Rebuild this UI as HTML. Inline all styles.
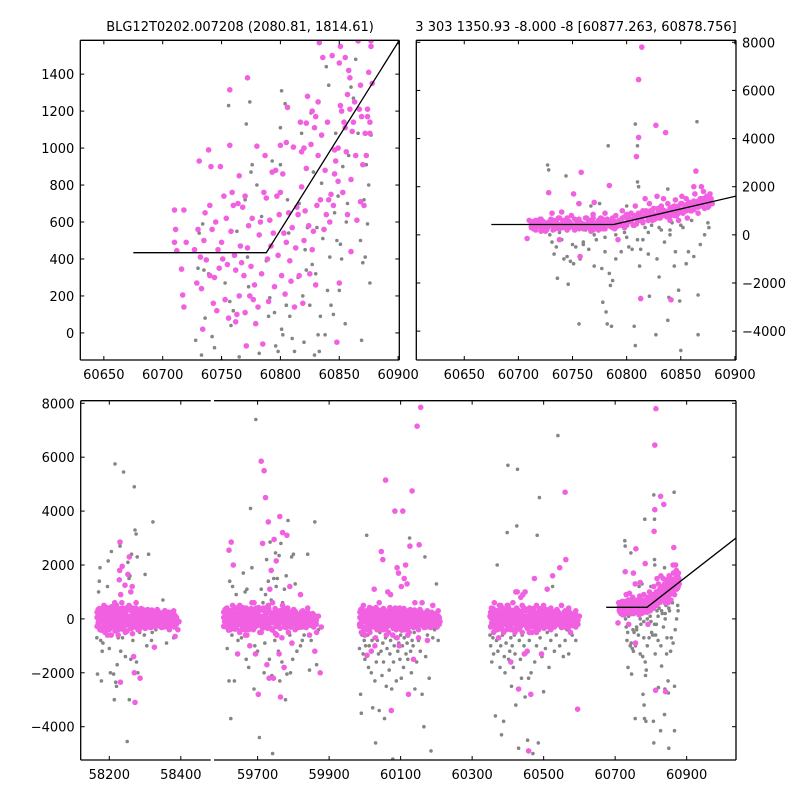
<!DOCTYPE html>
<html><head><meta charset="utf-8">
<style>
html,body{margin:0;padding:0;background:#fff;}
svg text{font-family:"DejaVu Sans","Liberation Sans",sans-serif;font-size:13px;fill:#000;}
</style></head>
<body>
<svg id="chart" width="800" height="800" xmlns="http://www.w3.org/2000/svg">
<rect width="800" height="800" fill="#fff"/>
<defs>
<clipPath id="cTL"><rect x="80.3" y="40.3" width="319" height="319.7"/></clipPath>
<clipPath id="cTR"><rect x="416.3" y="40.3" width="319.7" height="319.7"/></clipPath>
<clipPath id="cB1"><rect x="80.7" y="400.7" width="130" height="359.3"/></clipPath>
<clipPath id="cB2"><rect x="214" y="400.7" width="522" height="359.3"/></clipPath>
</defs>
<text x="240" y="31" text-anchor="middle">BLG12T0202.007208 (2080.81, 1814.61)</text>
<text x="576" y="31" text-anchor="middle">3 303 1350.93 -8.000 -8 [60877.263, 60878.756]</text>
<g id="layer"></g>
</svg>
<script>
// ---- data: zoomed panel (top-left) ----
const tlPinkT=[60710,60711,60710,60712,60716,60717,60718,60718,60720,60727,60729,60730,60731,60732,60733,60734,60735,60736,60737,60739,60740,60740,60741,60742,60743,60744,60745,60746,60747,60748,60749,60750,60751,60752,60753,60754,60755,60756,60757,60757,60758,60759,60760,60761,60762,60762,60763,60764,60765,60765,60766,60767,60768,60769,60770,60770,60771,60772,60772,60773,60774,60775,60776,60777,60778,60779,60780,60781,60782,60783,60784,60785,60786,60787,60788,60789,60790,60791,60792,60793,60794,60795,60796,60797,60798,60799,60800,60800,60801,60802,60803,60804,60805,60805,60806,60807,60808,60809,60810,60811,60812,60813,60814,60815,60816,60817,60818,60818,60819,60820,60820,60821,60822,60822,60823,60824,60825,60826,60827,60827,60828,60829,60830,60830,60831,60832,60832,60833,60834,60835,60836,60837,60838,60839,60840,60841,60842,60843,60844,60845,60846,60846,60847,60848,60849,60849,60850,60850,60851,60851,60852,60853,60854,60855,60855,60856,60857,60857,60858,60859,60859,60860,60860,60861,60862,60863,60864,60865,60866,60867,60868,60868,60869,60870,60871,60872,60873,60874,60874,60875,60876,60877,60877,60878,60876];
const tlPinkV=[665,560,490,445,345,205,140,665,490,450,270,560,930,410,240,20,500,650,395,990,310,690,900,560,160,300,600,120,450,350,900,490,400,740,180,620,370,80,1315,1015,550,760,690,420,60,340,100,700,850,200,470,380,680,310,740,110,-70,460,1380,580,200,360,620,180,260,50,1010,140,530,600,320,-60,760,960,730,400,170,610,470,870,540,250,880,740,420,640,1015,760,310,860,540,210,1030,490,1220,650,390,280,570,1005,140,460,680,640,310,1140,980,790,160,500,1000,660,1135,890,1280,580,320,1020,1200,450,550,1110,260,1170,690,1250,960,1570,720,1070,1490,560,880,640,1140,720,600,750,1500,690,860,990,930,-50,820,1000,270,1460,1550,1230,1200,760,1140,1490,1110,980,1290,640,1420,1210,1380,830,440,1090,1140,1250,960,610,1580,1210,710,1340,1170,910,690,1080,960,1210,1170,1410,1140,1580,1550,1350,1080];
const tlGrayT=[60728,60730,60731,60733,60734,60735,60736,60739,60742,60744,60750,60753,60756,60757,60758,60760,60763,60765,60770,60771,60772,60773,60774,60775,60776,60780,60782,60784,60788,60790,60791,60793,60795,60796,60798,60800,60800,60801,60801,60802,60804,60805,60806,60807,60808,60810,60812,60815,60816,60818,60819,60820,60821,60822,60823,60825,60826,60827,60828,60829,60830,60831,60832,60833,60834,60835,60836,60838,60839,60840,60841,60842,60843,60845,60846,60847,60848,60849,60850,60851,60852,60853,60855,60856,60857,60858,60860,60862,60864,60866,60868,60869,60870,60871,60872,60873,60874,60875,60876,60877];
const tlGrayV=[-40,350,540,-120,590,340,80,320,-20,-80,-150,270,1230,170,40,120,550,-130,720,1130,410,250,1250,870,910,800,-110,630,390,90,190,930,110,-70,-100,910,1110,1310,20,-10,1240,150,720,540,90,-30,-100,300,700,1080,200,-50,450,340,570,150,1190,370,870,-120,320,570,-10,-100,90,810,510,-10,1440,230,1340,410,150,100,650,1080,500,740,230,480,400,900,50,600,700,960,1330,1270,1480,1080,500,-40,380,720,410,910,590,800,270,1070];
// ---- data: season 5 (top-right + bottom) ----
const s5PinkT=[60708,60710,60712,60714,60716,60718,60720,60722,60724,60726,60728,60729,60731,60733,60735,60737,60738,60740,60742,60744,60745,60747,60749,60751,60752,60754,60756,60757,60758,60760,60762,60764,60765,60767,60769,60770,60772,60774,60776,60778,60780,60782,60784,60785,60787,60789,60790,60792,60794,60796,60798,60800,60802,60804,60806,60808,60809,60811,60811,60813,60814,60815,60817,60818,60820,60821,60823,60825,60827,60828,60830,60832,60834,60836,60837,60838,60840,60841,60842,60844,60845,60846,60848,60850,60851,60852,60854,60855,60856,60858,60860,60862,60863,60864,60865,60866,60868,60869,60870,60871,60872,60874,60875,60876,60877,60878,60879,60715,60725,60735,60745,60755,60765,60775,60785,60795,60805,60815,60825,60835,60845,60855,60865,60875,60870,60860,60850,60840,60830,60820,60810,60800,60790,60780,60770,60760,60750,60740,60730,60720];
const s5PinkV=[-150,600,350,450,250,500,650,300,420,200,1750,550,900,380,480,700,-200,950,400,600,250,500,800,1700,350,550,1300,-900,2600,450,700,300,600,150,850,1350,400,550,700,250,900,500,2050,350,650,450,800,-200,550,1000,300,700,600,900,400,1200,3250,6450,4050,-2650,7800,750,1500,1000,600,1300,900,1100,4550,1600,700,1200,1500,4250,900,1300,600,-2700,1100,800,1450,1000,600,1300,1600,900,1200,1500,700,1350,1000,2000,1700,2650,1300,900,1500,2000,1200,1800,1100,1600,1400,1200,1700,1500,1300,400,300,600,450,500,400,450,500,400,650,1000,800,1000,1150,1100,1300,1150,1500,1200,1000,900,1000,800,600,500,350,400,500,300,350,450,400,450];
const s5CoreT=[60712,60714,60716,60719,60721,60723,60725,60727,60730,60732,60734,60736,60738,60741,60743,60745,60747,60749,60752,60754,60756,60758,60760,60763,60765,60767,60769,60771,60774,60776,60778,60780,60782,60785,60787,60789,60791,60793,60796,60798,60800,60802,60804,60807,60809,60811,60813,60815,60818,60820,60822,60824,60826,60829,60831,60833,60835,60837,60840,60842,60844,60846,60848,60851,60853,60855,60857,60859,60862,60864,60866,60868,60870,60873,60875];
const s5CoreV1=[300,550,200,450,650,350,150,500,400,600,250,450,700,300,500,200,550,350,650,450,250,500,400,700,300,550,200,450,600,350,500,250,650,400,300,550,450,600,500,750,400,700,550,800,450,900,650,550,850,700,1000,600,800,950,700,1050,850,750,1100,900,1000,800,1200,950,1100,1000,1300,1150,1050,1250,1400,1200,1350,1500,1300];
const s5CoreV2=[450,250,600,350,150,550,400,300,650,200,500,350,250,600,400,700,300,450,200,550,650,350,250,450,600,400,700,300,200,500,650,300,450,550,700,250,350,400,700,450,850,550,650,400,750,600,800,500,950,600,750,900,650,1100,850,800,1000,950,800,1150,1200,1050,900,1300,1100,1250,1150,1000,1400,1300,1150,1450,1250,1550,1200];
const s5GrayT=[60727,60728,60729,60731,60733,60735,60736,60738,60740,60742,60744,60745,60746,60748,60750,60751,60753,60755,60756,60757,60760,60762,60765,60767,60770,60772,60775,60777,60778,60780,60781,60782,60783,60784,60785,60786,60787,60790,60792,60795,60798,60800,60802,60805,60807,60808,60808,60810,60810,60811,60812,60813,60815,60817,60820,60821,60823,60825,60827,60828,60830,60832,60835,60838,60838,60839,60840,60842,60844,60845,60848,60849,60850,60852,60855,60857,60860,60862,60865,60866,60866,60868,60870,60872,60875,60876,60850,60840,60830,60820,60810,60800,60790,60780,60770,60760];
const s5GrayV=[2900,2700,0,-300,-800,-500,-1800,100,-200,-1000,2450,-900,-2050,-1100,-400,-1200,-500,1300,-3700,-1000,-300,200,-600,1200,-1300,-200,1300,-1400,-2800,-700,-3200,-3700,3700,-1600,-2100,-3800,-1900,-1000,400,-700,100,1200,-500,-600,-3800,4600,-4600,2200,3700,2000,-1300,-600,-200,300,-800,-2550,400,700,-4150,-1000,-1750,200,-300,1900,-3550,-2600,200,500,-1300,-700,-2300,-2750,-4800,300,-1200,-700,600,-900,4700,-2500,-4150,-400,1300,0,500,300,400,0,300,100,-200,-100,0,-100,0,-400];
// ---- data: seasons 1-4 (bottom) ----
const s1PinkT=[58168,58170,58172,58174,58176,58178,58180,58182,58184,58186,58188,58190,58192,58194,58196,58198,58200,58202,58204,58206,58208,58210,58212,58214,58216,58218,58220,58222,58224,58226,58228,58229,58230,58231,58232,58234,58236,58238,58240,58242,58244,58246,58248,58250,58252,58254,58256,58258,58260,58262,58264,58266,58268,58270,58272,58274,58276,58278,58280,58282,58284,58286,58288,58290,58292,58294,58296,58298,58300,58302,58305,58308,58311,58314,58317,58320,58323,58326,58329,58332,58335,58338,58341,58344,58347,58350,58353,58356,58360,58364,58368,58372,58376,58380,58384,58388,58392,58395,58205,58215,58225,58235,58245,58255,58265,58275,58185,58195];
const s1PinkV=[100,-200,300,-400,0,200,-300,400,-100,100,-500,250,-50,350,-250,50,-400,200,-150,450,-300,100,-100,300,-450,0,500,-200,200,-350,1450,1800,2850,-2350,900,-150,1950,400,-300,100,1250,-200,300,-450,1650,0,2300,-100,1000,-350,1200,150,-1400,-2000,-3100,400,-250,100,-400,300,-100,-2200,200,-300,0,350,-200,100,-350,250,-100,200,-300,0,300,-200,100,-1050,200,-100,300,-250,0,200,-300,100,-150,300,-100,200,-400,100,-200,300,-650,0,-400,-100,-600,600,-600,600,-500,500,-550,600,500,-600];
const s1CoreT=[58166,58169,58172,58175,58178,58181,58184,58187,58190,58193,58196,58199,58202,58205,58208,58211,58214,58217,58220,58223,58226,58229,58232,58235,58238,58241,58244,58247,58250,58253,58256,58259,58262,58265,58268,58271,58274,58277,58280,58283,58286,58289,58292,58295,58298,58301,58304,58307,58310,58313,58316,58319,58322,58325,58328,58331,58334,58337,58340,58343,58346,58349,58352,58355,58358,58361,58364,58367,58370,58373,58376,58379,58382,58385,58388];
const s2CoreT=[59605,59609,59612,59616,59619,59623,59626,59630,59633,59637,59640,59644,59647,59651,59654,59658,59661,59665,59668,59672,59675,59679,59682,59686,59689,59693,59696,59700,59703,59707,59710,59714,59717,59721,59724,59728,59731,59735,59738,59742,59745,59749,59752,59756,59759,59763,59766,59770,59773,59777,59780,59784,59787,59791,59794,59798,59801,59805,59808,59812,59815,59819,59822,59826,59829,59833,59836,59840,59843,59847,59850,59854,59857,59861,59864];
const s3CoreT=[59986,59989,59992,59995,59998,60001,60004,60007,60010,60013,60016,60019,60022,60025,60028,60031,60034,60037,60040,60043,60046,60049,60052,60055,60058,60061,60064,60067,60070,60073,60076,60079,60082,60085,60088,60091,60094,60097,60100,60103,60106,60109,60112,60115,60118,60121,60124,60127,60130,60133,60136,60139,60142,60145,60148,60151,60154,60157,60160,60163,60166,60169,60172,60175,60178,60181,60184,60187,60190,60193,60196,60199,60202,60205,60208];
const s4CoreT=[60352,60355,60359,60362,60365,60369,60372,60375,60378,60382,60385,60388,60392,60395,60398,60402,60405,60408,60411,60415,60418,60421,60425,60428,60431,60435,60438,60441,60444,60448,60451,60454,60458,60461,60464,60468,60471,60474,60477,60481,60484,60487,60491,60494,60497,60501,60504,60507,60510,60514,60517,60520,60524,60527,60530,60534,60537,60540,60543,60547,60550,60553,60557,60560,60563,60567,60570,60573,60576,60580,60583,60586,60590,60593,60596];
const coreV1=[250,-150,380,-320,120,-60,300,-250,180,-380,60,340,-200,220,-120,420,-300,80,-50,320,-400,160,380,-180,40,-300,250,-100,420,-220,100,-350,300,-60,200,-250,380,-150,50,-420,230,-30,300,-200,120,-350,260,-100,200,-280,60,330,-150,240,-300,90,-50,280,-220,150,-320,40,250,-120,180,-280,100,-60,200,-200,80,-150,150,-100,50];
const coreV2=[-280,350,-100,200,-420,280,-60,150,-300,420,-220,-30,310,-150,380,-240,120,-400,250,-120,200,-30,-250,330,-380,150,-80,300,-200,60,-250,350,-120,400,-300,30,-180,250,-350,120,-150,380,-280,180,-50,300,-120,350,-180,200,-320,-100,280,-250,100,-180,350,-100,200,-260,150,-200,-300,300,-100,220,-320,250,-30,150,-250,200,-300,100,-200];
const coreV3=[50,10,-60,100,-20,30,-120,80,-30,0,-150,120,50,-80,0,-100,160,-200,130,-10,90,-100,0,60,200,-80,0,-200,100,0,-150,50,-30,120,60,-100,0,-80,180,-20,40,-150,80,-60,-200,150,40,-80,60,0,-100,150,50,-60,100,-180,200,0,-80,40,100,-250,-40,80,0,-100,40,-20,100,-50,-100,60,-80,0,-50];
const s1GrayT=[58165,58167,58170,58172,58174,58176,58178,58180,58182,58190,58195,58197,58200,58203,58206,58208,58212,58214,58216,58218,58220,58222,58225,58230,58232,58237,58240,58245,58250,58252,58255,58256,58258,58260,58262,58264,58266,58270,58272,58275,58276,58278,58280,58285,58290,58298,58300,58305,58310,58318,58322,58330,58340,58350,58360,58370,58380,58390,58300,58320];
const s1GrayV=[-700,-2050,1000,1400,1900,-800,-2300,-1200,-900,-500,1200,2150,-1100,-2000,2500,-600,-2050,-3000,5750,-2350,-2500,-1700,-700,2700,-1200,-700,5450,-1400,-4550,2100,1500,-3000,1600,-1500,2400,1200,-800,4900,3300,3150,-1600,2300,-2000,-500,-300,-600,1650,-1000,2400,-800,3600,-400,-300,700,-900,-200,-700,0,-300,-500];
const s2PinkT=[59608,59610,59612,59614,59616,59618,59620,59622,59624,59626,59628,59630,59632,59634,59636,59638,59640,59642,59644,59646,59648,59650,59652,59654,59656,59658,59660,59662,59664,59666,59668,59670,59672,59674,59676,59678,59680,59682,59684,59686,59688,59690,59692,59694,59696,59698,59700,59702,59704,59706,59708,59710,59712,59714,59716,59718,59720,59722,59724,59726,59728,59730,59732,59734,59736,59738,59740,59742,59744,59746,59748,59750,59752,59754,59756,59758,59760,59762,59764,59766,59768,59770,59772,59774,59776,59778,59780,59782,59784,59786,59788,59790,59792,59794,59796,59798,59800,59805,59810,59815,59820,59825,59830,59835,59840,59845,59850,59855,59860,59865,59870,59875,59878,59630,59650,59670,59690,59710,59730,59750,59770];
const s2PinkV=[-100,200,-300,400,0,-200,2550,300,-400,2850,100,-250,2000,400,-100,200,-350,0,-1300,300,-200,500,100,-400,200,-100,350,-250,50,-600,400,-100,200,-300,100,-1000,300,-200,600,0,-400,200,-100,-1300,400,-250,50,-2800,300,-500,100,5850,-200,2800,400,5500,-100,4500,200,-1700,-350,3600,-2200,1100,0,1800,-400,600,-2200,2950,200,-100,2150,-600,300,-200,-1300,3800,-2900,100,-700,3200,400,-1800,-300,200,-100,3100,400,-500,0,1200,-300,200,-900,-100,300,-400,100,-200,900,-300,200,-100,400,-600,-200,0,-1200,-500,100,-2000,-300,500,-500,-600,600,-500,500,-550,500];
const s2GrayT=[59615,59620,59622,59625,59628,59630,59635,59640,59645,59650,59655,59660,59662,59665,59668,59670,59675,59680,59684,59690,59692,59695,59700,59705,59710,59715,59718,59720,59722,59725,59730,59733,59735,59738,59740,59742,59745,59748,59750,59752,59755,59758,59760,59762,59765,59768,59770,59775,59778,59780,59782,59785,59788,59790,59792,59795,59798,59800,59805,59810,59815,59820,59825,59830,59835,59840,59845,59850,59855,59860,59865,59870];
const s2GrayV=[-1100,-2300,1400,-3700,-600,1200,-2300,900,-800,-200,-700,1700,-300,1000,-1500,1100,-1800,4100,1900,-2600,-1000,7400,-1200,-4400,1100,600,-2000,-900,900,2200,1400,-1500,2850,700,-2100,-5000,1500,-800,2450,1200,1500,-1200,2350,-2300,2800,-1600,600,1100,-3000,1600,-2050,3650,-200,-600,-2000,2300,-1500,2400,1300,-1200,-300,-1000,-800,-600,-200,2400,-1900,-800,-300,3600,-1700,-400];
const s3PinkT=[59985,59988,59990,59992,59994,59996,59998,60000,60002,60004,60006,60008,60010,60012,60014,60016,60018,60020,60022,60024,60026,60028,60030,60032,60034,60036,60038,60040,60042,60044,60046,60048,60050,60052,60054,60056,60058,60060,60062,60064,60066,60068,60070,60072,60074,60076,60078,60080,60082,60084,60086,60088,60090,60092,60094,60096,60098,60100,60102,60104,60106,60108,60110,60112,60114,60116,60118,60120,60122,60124,60126,60128,60130,60132,60134,60136,60138,60140,60142,60144,60146,60148,60150,60152,60154,60156,60158,60160,60165,60170,60175,60180,60185,60190,60195,60200,60205,60210,60000,60030,60060,60090,60120,60150];
const s3PinkV=[-200,300,-500,100,-300,500,-100,200,-400,0,-1350,300,-200,100,-500,400,-1200,-100,200,-300,1100,-1000,0,300,-400,100,-200,600,-300,0,2500,-100,2200,-400,200,-200,5150,100,-300,1000,-500,300,-100,900,-3400,200,-600,0,-200,4000,300,-400,1900,-100,1700,-1000,400,-200,1200,-300,4000,100,1500,-400,2000,-200,1300,200,-2800,-500,2700,100,-100,4750,300,-1500,-300,600,200,-200,7150,100,-400,2750,300,7850,-100,600,-200,200,-800,100,-300,500,0,-200,300,-100,-600,-700,-600,-700,-600,-700];
const s3GrayT=[59985,59988,59990,59992,59995,59998,60000,60002,60005,60008,60010,60012,60015,60018,60020,60022,60025,60026,60028,60030,60032,60035,60038,60040,60042,60045,60048,60050,60052,60055,60058,60060,60062,60065,60068,60070,60072,60075,60078,60080,60082,60085,60088,60090,60092,60095,60098,60100,60102,60105,60108,60110,60112,60115,60118,60120,60122,60125,60128,60130,60132,60135,60138,60140,60145,60148,60150,60155,60160,60165,60168,60170,60175,60180,60185,60190,60195,60200,60205];
const s3GrayV=[-1100,-2800,-3500,-600,-1300,-800,-1500,-1000,3100,-600,-1800,-1000,-400,-2000,-800,-3300,1100,-700,-2300,-4600,-1600,-800,-1300,-3400,-500,-1200,-2100,-900,-1600,-3700,-700,-2500,-1100,-300,-1900,-1300,-800,-2600,-5200,-1600,-1000,-700,-2300,-400,-1200,-900,-1500,-600,-2200,-1000,-1800,-700,-400,-1300,-900,-1500,-600,3000,-1200,-2000,-800,-1000,-500,-2600,-1600,-300,-800,-1200,-2800,-4000,2300,-1400,-600,-2200,-4900,-700,-400,1300,-800];
const s4PinkT=[60350,60352,60354,60356,60358,60360,60362,60364,60366,60368,60370,60372,60374,60376,60378,60380,60382,60384,60386,60388,60390,60392,60394,60396,60398,60400,60402,60404,60406,60408,60410,60412,60414,60416,60418,60420,60422,60424,60426,60428,60430,60432,60434,60436,60438,60440,60442,60444,60446,60448,60450,60452,60454,60456,60458,60460,60462,60464,60466,60468,60470,60472,60474,60476,60478,60480,60482,60484,60486,60488,60490,60492,60494,60496,60498,60500,60505,60510,60515,60520,60525,60530,60535,60540,60545,60550,60555,60560,60562,60565,60570,60575,60580,60585,60590,60595,60600,60380,60400,60420,60440,60460,60480,60500,60520];
const s4PinkV=[100,-300,400,-100,200,-500,600,0,-200,300,-400,100,-700,500,-100,200,-300,400,0,-500,300,-200,100,-400,500,-100,200,-300,0,-1600,300,-200,600,-400,100,-100,1000,400,1000,-200,-2600,100,-300,800,200,-500,900,0,-1300,1000,300,-200,-1200,100,-4900,400,-100,-2800,200,-500,0,300,1500,-300,100,500,-200,200,-400,0,300,-100,-1300,400,-200,100,-300,1100,200,-400,1600,0,300,-200,1900,500,-100,4700,2200,-300,400,-500,100,-200,300,-3350,100,500,500,-500,500,-500,-500,500,400];
const s4GrayT=[60350,60352,60355,60358,60360,60365,60368,60370,60372,60375,60378,60380,60382,60385,60388,60390,60392,60395,60398,60400,60402,60405,60408,60410,60412,60415,60418,60420,60422,60425,60427,60430,60432,60435,60438,60440,60445,60448,60450,60455,60458,60460,60465,60470,60475,60480,60482,60485,60488,60490,60495,60500,60505,60510,60515,60520,60525,60530,60535,60540,60545,60550,60555,60560,60565,60570,60575,60580,60590];
const s4GrayV=[-600,-1000,-1600,-700,-1300,-3600,-800,2000,-1200,-400,-1800,-1000,-4300,-600,-3800,-1400,-2000,-900,3200,5700,-1500,-1200,-700,-2500,-1000,-1800,-600,-1300,-3200,3450,5550,-4800,-800,-1500,-2200,-600,-1000,-2900,-1300,-4500,-2200,-800,-2000,-5000,-1600,-1000,3100,-4600,4500,-700,-1400,-2700,-1100,-500,-1800,-800,1200,-1200,-600,6800,-1000,-300,-1400,-800,-400,-1300,-200,-600,-800];
// ---- model lines ----
const tlModelT=[60675,60788,60901];
const tlModelV=[434,434,1583];
const trModelT=[60675,60788,60901];
const trModelV=[430,430,1610];
const bModelT=[60675,60789,61038];
const bModelV=[430,430,3000];
// ---- ticks ----
const tlXTicks=[60650,60700,60750,60800,60850,60900];
const tlYTicks=[0,200,400,600,800,1000,1200,1400];
const trXTicks=[60650,60700,60750,60800,60850,60900];
const trYTicks=[-4000,-2000,0,2000,4000,6000,8000];
const b1XTicks=[58200,58400];
const b2XTicks=[59700,59900,60100,60300,60500,60700,60900];
const bYTicks=[-4000,-2000,0,2000,4000,6000,8000];

const NS='http://www.w3.org/2000/svg';
const layer=document.getElementById('layer');
const PINK='#f060e0', GRAY='#858585';
function mk(tag,attrs,parent){const e=document.createElementNS(NS,tag);for(const k in attrs)e.setAttribute(k,attrs[k]);(parent||layer).appendChild(e);return e;}
function lin(d0,d1,p0,p1){return v=>p0+(v-d0)*(p1-p0)/(d1-d0);}
function fmt(v){return v<0?'\u2212'+Math.abs(v):String(v);}

const ax={
 tl:{x:lin(60630,60901,80.3,399.3),y:lin(-146.5,1583,360,40.3),clip:'cTL'},
 tr:{x:lin(60605.7,60901,416.3,736),y:lin(-5200,8083,360,40.3),clip:'cTR'},
 b1:{x:lin(58120,58483.6,80.7,210.7),y:lin(-5236,8096,760,400.7),clip:'cB1'},
 b2:{x:lin(59578,61038,214,736),y:lin(-5236,8096,760,400.7),clip:'cB2'}
};

function scatter(a,T,V,color,r,name){
 const g=mk('g',{'clip-path':'url(#'+a.clip+')'});
 
 
 const n=Math.min(T.length,V.length);
 for(let i=0;i<n;i++){
  const c=mk('circle',{cx:a.x(T[i]).toFixed(1),cy:a.y(V[i]).toFixed(1),r:r,fill:color},g);
  
  
 }
}
function model(a,T,V,name){
 const pts=T.map((t,i)=>a.x(t).toFixed(1)+','+a.y(V[i]).toFixed(1)).join(' ');
 const p=mk('polyline',{points:pts,fill:'none',stroke:'#000','stroke-width':1.3,'clip-path':'url(#'+a.clip+')'});
 
 
}
function frame(x0,y0,x1,y1,sides,name){
 const g=mk('g',{});
 
 
 if(sides.includes('t'))mk('line',{x1:x0,y1:y0,x2:x1,y2:y0,stroke:'#000','stroke-width':1.3},g);
 if(sides.includes('b'))mk('line',{x1:x0,y1:y1,x2:x1,y2:y1,stroke:'#000','stroke-width':1.3},g);
 if(sides.includes('l'))mk('line',{x1:x0,y1:y0,x2:x0,y2:y1,stroke:'#000','stroke-width':1.3},g);
 if(sides.includes('r'))mk('line',{x1:x1,y1:y0,x2:x1,y2:y1,stroke:'#000','stroke-width':1.3},g);
}
function xticks(a,ticks,y0,y1,name){
 ticks.forEach(t=>{
  const x=a.x(t);
  mk('line',{x1:x,y1:y1,x2:x,y2:y1-4,stroke:'#000','stroke-width':1});
  mk('line',{x1:x,y1:y0,x2:x,y2:y0+4,stroke:'#000','stroke-width':1});
  const tx=mk('text',{x:x,y:y1+19,'text-anchor':'middle'});
  tx.textContent=fmt(t);
  
  
 });
}
function yticks(a,ticks,x0,x1,side,name){
 ticks.forEach(v=>{
  const y=a.y(v);
  mk('line',{x1:x0,y1:y,x2:x0+4,y2:y,stroke:'#000','stroke-width':1});
  mk('line',{x1:x1,y1:y,x2:x1-4,y2:y,stroke:'#000','stroke-width':1});
  const tx=side==='l'?mk('text',{x:x0-6,y:y+5,'text-anchor':'end'}):mk('text',{x:x1+6,y:y+5,'text-anchor':'start'});
  tx.textContent=fmt(v);
  
  
 });
}

// top-left
scatter(ax.tl,tlGrayT,tlGrayV,GRAY,1.8,'tl-gray-series');
scatter(ax.tl,tlPinkT,tlPinkV,PINK,2.8,'tl-pink-series');
model(ax.tl,tlModelT,tlModelV,'tl-model-line');
frame(80.3,40.3,399.3,360,'tblr','tl-axes-frame');
xticks(ax.tl,tlXTicks,40.3,360,'tl-x-tick-label');
yticks(ax.tl,tlYTicks,80.3,399.3,'l','tl-y-tick-label');
// top-right
scatter(ax.tr,s5GrayT,s5GrayV,GRAY,1.8,'tr-gray-series');
scatter(ax.tr,s5PinkT,s5PinkV,PINK,2.8,'tr-pink-series');
scatter(ax.tr,s5CoreT,s5CoreV1,PINK,2.8,'tr-pink-core');
scatter(ax.tr,s5CoreT,s5CoreV2,PINK,2.8,'tr-pink-core');
model(ax.tr,trModelT,trModelV,'tr-model-line');
frame(416.3,40.3,736,360,'tblr','tr-axes-frame');
xticks(ax.tr,trXTicks,40.3,360,'tr-x-tick-label');
yticks(ax.tr,trYTicks,416.3,736,'r','tr-y-tick-label');
// bottom
scatter(ax.b1,s1GrayT,s1GrayV,GRAY,1.8,'season1-gray-series');
scatter(ax.b1,s1PinkT,s1PinkV,PINK,2.8,'season1-pink-series');
[coreV1,coreV2,coreV3].forEach(V=>scatter(ax.b1,s1CoreT,V,PINK,2.8,'season1-pink-core'));
[[s2GrayT,s2GrayV,'season2'],[s3GrayT,s3GrayV,'season3'],[s4GrayT,s4GrayV,'season4'],[s5GrayT,s5GrayV,'season5']].forEach(s=>scatter(ax.b2,s[0],s[1],GRAY,1.8,s[2]+'-gray-series'));
[[s2PinkT,s2PinkV,'season2'],[s3PinkT,s3PinkV,'season3'],[s4PinkT,s4PinkV,'season4'],[s5PinkT,s5PinkV,'season5']].forEach(s=>scatter(ax.b2,s[0],s[1],PINK,2.8,s[2]+'-pink-series'));
[[s2CoreT,'season2'],[s3CoreT,'season3'],[s4CoreT,'season4']].forEach(s=>{[coreV1,coreV2,coreV3].forEach(V=>scatter(ax.b2,s[0],V,PINK,2.8,s[1]+'-pink-core'));});
scatter(ax.b2,s5CoreT,s5CoreV1,PINK,2.8,'season5-pink-core');
scatter(ax.b2,s5CoreT,s5CoreV2,PINK,2.8,'season5-pink-core');
model(ax.b2,bModelT,bModelV,'bottom-model-line');
frame(80.7,400.7,210.7,760,'tbl','bottom-left-axes-frame');
frame(214,400.7,736,760,'tbr','bottom-right-axes-frame');
xticks(ax.b1,b1XTicks,400.7,760,'bottom-x-tick-label');
xticks(ax.b2,b2XTicks,400.7,760,'bottom-x-tick-label');
bYTicks.forEach(v=>{
 const y=ax.b1.y(v);
 mk('line',{x1:80.7,y1:y,x2:84.7,y2:y,stroke:'#000','stroke-width':1});
 mk('line',{x1:736,y1:y,x2:732,y2:y,stroke:'#000','stroke-width':1});
 const tx=mk('text',{x:74.7,y:y+5,'text-anchor':'end'});
 tx.textContent=fmt(v);
 
 
});
</script>
</body></html>
